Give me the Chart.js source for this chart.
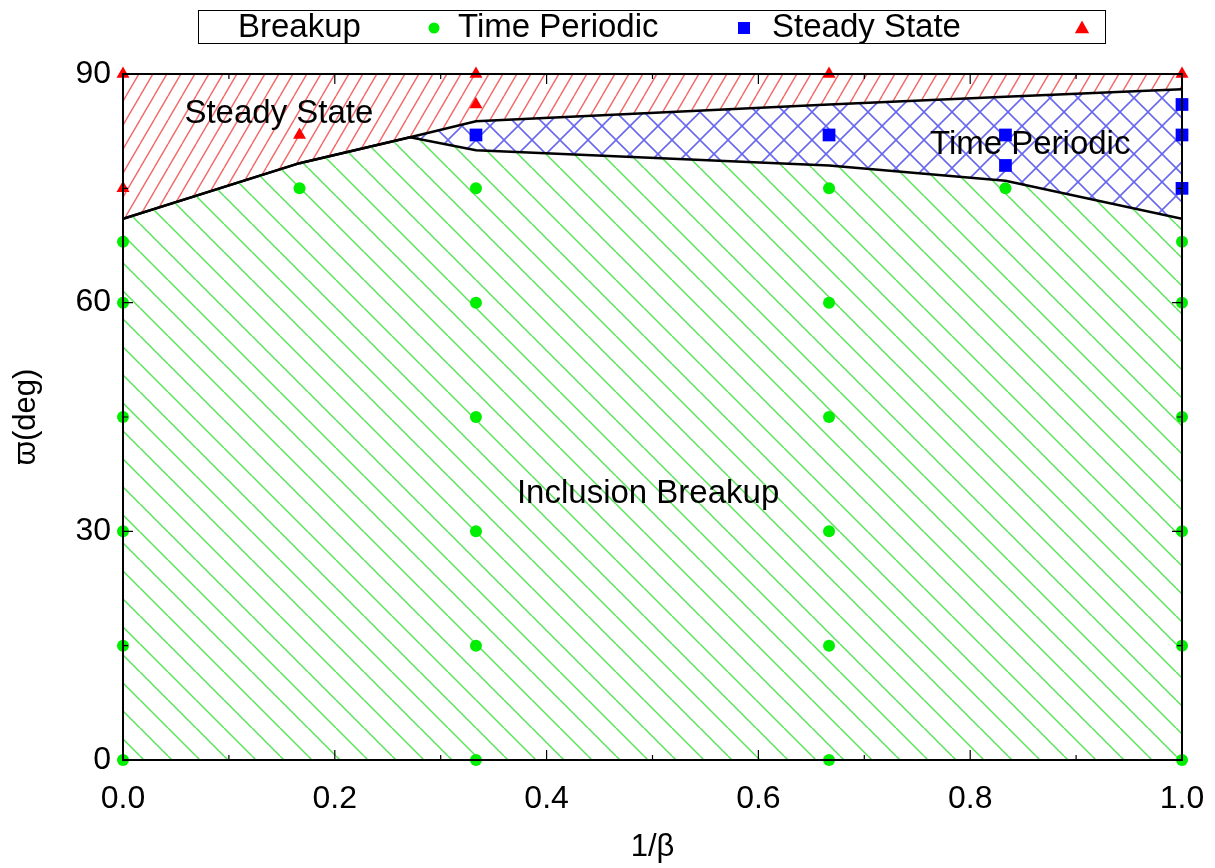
<!DOCTYPE html>
<html>
<head>
<meta charset="utf-8">
<title>Breakup map</title>
<script src="https://cdn.jsdelivr.net/npm/chart.js@4.4.1/dist/chart.umd.min.js"></script>
<style>
  body { margin: 0; background: #fff; }
  #wrap { width: 1215px; height: 868px; }
</style>
</head>
<body>
<div id="wrap"><canvas id="c" width="1215" height="868"></canvas></div>
<script>
// simulation points
const breakupX = [0, 0, 0, 0, 0, 0, 0.1667, 0.3333, 0.3333, 0.3333, 0.3333, 0.3333, 0.3333,
                  0.6667, 0.6667, 0.6667, 0.6667, 0.6667, 0.6667, 0.8333, 1, 1, 1, 1, 1, 1];
const breakupY = [0, 15, 30, 45, 60, 68, 75, 0, 15, 30, 45, 60, 75,
                  0, 15, 30, 45, 60, 75, 75, 0, 15, 30, 45, 60, 68];
const periodicX = [0.3333, 0.6667, 0.8333, 0.8333, 1, 1, 1];
const periodicY = [82, 82, 82, 78, 86, 82, 75];
const steadyX = [0, 0, 0.1667, 0.3333, 0.3333, 0.6667, 1];
const steadyY = [90, 75, 82, 90, 86, 90, 90];

// region boundaries
const edgeX = [0, 0.1667];
const edgeY = [71, 78.3];
const upperX = [0.271, 0.3333, 0.6667, 0.8333, 1];
const upperY = [81.7, 83.8, 86, 87, 88];
const lowerX = [0.271, 0.3333, 0.6667, 0.8333, 1];
const lowerY = [81.7, 80, 78, 76, 71];

// region labels
const regionNames = ['Steady State', 'Time Periodic', 'Inclusion Breakup'];
const regionX = [0.058, 0.762, 0.372];
const regionY = [84.8, 80.7, 34.9];

const legendLabels = ['Breakup', 'Time Periodic', 'Steady State'];

const FONT = '"Liberation Sans", Arial, sans-serif';

function pts(xs, ys) {
    return xs.map((x, i) => ({ x: x, y: ys[i] }));
}

const canvas = document.getElementById('c');
const ctx = canvas.getContext('2d');

// hatch tiles like gnuplot fill patterns
function hatch(w, h, color, lw, dirs) {
    const t = document.createElement('canvas');
    t.width = w;
    t.height = h;
    const g = t.getContext('2d');
    g.strokeStyle = color;
    g.lineWidth = lw;
    dirs.forEach(d => {
        for (let k = -1; k <= 1; k++) {
            g.beginPath();
            if (d === '/') {
                g.moveTo(k * w, h);
                g.lineTo(k * w + w, 0);
            } else {
                g.moveTo(k * w, 0);
                g.lineTo(k * w + w, h);
            }
            g.stroke();
        }
    });
    return ctx.createPattern(t, 'repeat');
}

const greenHatch = hatch(28, 28, 'rgb(90,228,90)', 1.5, ['\\']);
const redHatch = hatch(14, 24, 'rgb(242,105,105)', 1.4, ['/']);
const blueHatch = hatch(28, 28, 'rgb(105,105,238)', 1.6, ['/', '\\']);

function marker(c, style, x, y, r) {
    c.beginPath();
    if (style === 'circle') {
        c.arc(x, y, r, 0, Math.PI * 2);
    } else if (style === 'rect') {
        c.rect(x - r, y - r, 2 * r, 2 * r);
    } else {
        c.moveTo(x, y - r);
        c.lineTo(x + r * 0.95, y + r * 0.7);
        c.lineTo(x - r * 0.95, y + r * 0.7);
        c.closePath();
    }
    c.fill();
}

const framePlugin = {
    id: 'frame',
    afterDatasetsDraw(chart) {
        const c = chart.ctx;
        const a = chart.chartArea;
        const xs = chart.scales.x;
        const ys = chart.scales.y;
        c.save();

        // region names
        c.fillStyle = '#000';
        c.font = '33px ' + FONT;
        c.textAlign = 'left';
        c.textBaseline = 'middle';
        regionNames.forEach((n, i) => {
            c.fillText(n, xs.getPixelForValue(regionX[i]), ys.getPixelForValue(regionY[i]));
        });

        // frame
        c.strokeStyle = '#000';
        c.lineWidth = 2;
        c.strokeRect(a.left, a.top, a.right - a.left, a.bottom - a.top);

        // inward ticks, mirrored
        c.lineWidth = 1.2;
        c.beginPath();
        xs.ticks.forEach(t => {
            const px = xs.getPixelForValue(t.value);
            const len = Math.round(t.value * 10) % 2 === 0 ? 10 : 5;
            c.moveTo(px, a.bottom);
            c.lineTo(px, a.bottom - len);
            c.moveTo(px, a.top);
            c.lineTo(px, a.top + len);
        });
        ys.ticks.forEach(t => {
            const py = ys.getPixelForValue(t.value);
            const len = Math.round(t.value) % 30 === 0 ? 10 : 5;
            c.moveTo(a.left, py);
            c.lineTo(a.left + len, py);
            c.moveTo(a.right, py);
            c.lineTo(a.right - len, py);
        });
        c.stroke();
        c.restore();
    },
    afterDraw(chart) {
        const c = chart.ctx;
        c.save();
        // key box across the top
        c.strokeStyle = '#000';
        c.lineWidth = 1;
        c.strokeRect(198.5, 10.5, 907, 33);
        c.font = '33px ' + FONT;
        c.textAlign = 'left';
        c.textBaseline = 'middle';
        const textX = [238, 458, 772];
        const markX = [434, 744, 1082];
        const styles = ['circle', 'rect', 'triangle'];
        const sizes = [5.5, 6, 7.5];
        legendLabels.forEach((l, i) => {
            c.fillStyle = '#000';
            c.fillText(l, textX[i], 28);
            c.fillStyle = chart.data.datasets[i].backgroundColor;
            marker(c, styles[i], markX[i], 28, sizes[i]);
        });
        c.restore();
    }
};

new Chart(ctx, {
    type: 'line',
    data: {
        datasets: [
            {
                label: legendLabels[0],
                data: pts(breakupX, breakupY),
                showLine: false,
                pointStyle: 'circle',
                pointRadius: 6,
                backgroundColor: '#00ee00',
                borderColor: '#00ee00',
                borderWidth: 0,
                clip: false
            },
            {
                label: legendLabels[1],
                data: pts(periodicX, periodicY),
                showLine: false,
                pointStyle: 'rect',
                pointRadius: 9,
                backgroundColor: '#0000ff',
                borderColor: '#0000ff',
                borderWidth: 0,
                clip: false
            },
            {
                label: legendLabels[2],
                data: pts(steadyX, steadyY),
                showLine: false,
                pointStyle: 'triangle',
                pointRadius: 7.5,
                backgroundColor: '#ff0000',
                borderColor: '#ff0000',
                borderWidth: 0,
                clip: false
            },
            {
                // breakup region, down to the axis
                data: pts(edgeX.concat(lowerX), edgeY.concat(lowerY)),
                fill: 'start',
                backgroundColor: greenHatch,
                borderColor: '#000',
                borderWidth: 2.5,
                pointRadius: 0,
                tension: 0
            },
            {
                // steady state region, up to the top
                data: pts(edgeX.concat(upperX), edgeY.concat(upperY)),
                fill: 'end',
                backgroundColor: redHatch,
                borderColor: '#000',
                borderWidth: 2.5,
                pointRadius: 0,
                tension: 0
            },
            {
                // time periodic wedge
                data: pts(upperX, upperY),
                fill: 6,
                backgroundColor: blueHatch,
                borderWidth: 0,
                pointRadius: 0,
                tension: 0
            },
            {
                data: pts(lowerX, lowerY),
                fill: false,
                borderWidth: 0,
                pointRadius: 0,
                tension: 0
            }
        ]
    },
    options: {
        responsive: false,
        animation: false,
        events: [],
        layout: { padding: { top: 74, right: 33, left: 8, bottom: 0 } },
        plugins: {
            legend: { display: false },
            tooltip: { enabled: false }
        },
        scales: {
            x: {
                type: 'linear',
                min: 0,
                max: 1,
                grid: { display: false, drawTicks: false },
                border: { display: false },
                ticks: {
                    stepSize: 0.1,
                    padding: 20,
                    color: '#000',
                    font: { family: FONT, size: 32 },
                    maxRotation: 0,
                    autoSkip: false,
                    callback: v => Math.round(v * 10) % 2 === 0 ? v.toFixed(1) : ''
                },
                title: {
                    display: true,
                    text: '1/β',
                    color: '#000',
                    font: { family: FONT, size: 31 },
                    padding: { top: 0, bottom: 2 }
                },
                afterFit: s => {
                    s.height = 108;
                    s.paddingLeft = 0;
                    s.paddingRight = 0;
                }
            },
            y: {
                type: 'linear',
                min: 0,
                max: 90,
                grid: { display: false, drawTicks: false },
                border: { display: false },
                ticks: {
                    stepSize: 15,
                    padding: 12,
                    color: '#000',
                    font: { family: FONT, size: 32 },
                    autoSkip: false,
                    callback: v => Math.round(v) % 30 === 0 ? String(v) : ''
                },
                title: {
                    display: true,
                    text: 'ϖ(deg)',
                    color: '#000',
                    font: { family: FONT, size: 31 },
                    padding: { top: 0, bottom: 0 }
                },
                afterFit: s => { s.width = 115; }
            }
        }
    },
    plugins: [framePlugin]
});
</script>
</body>
</html>
